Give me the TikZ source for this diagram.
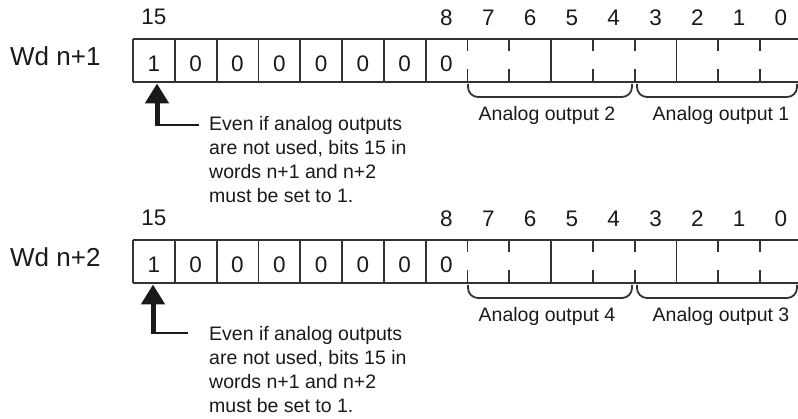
\documentclass[tikz,border=0pt]{standalone}
\usepackage{fontspec}
\setmainfont{Liberation Sans}
\usetikzlibrary{arrows.meta}
\definecolor{ink}{HTML}{1A1A1A}
\definecolor{linec}{HTML}{333333}
\newcommand\wordrow[9]{%
  % #1 prefix, #2 y offset, #3 label, #4 analog left text, #5 analog right text,
  % #6 arrow x, #7 corner y, #8 leader end x, #9 note baseline
  \pgfmathsetmacro\rt{39.3+#2}
  \pgfmathsetmacro\rb{81.7+#2}
  \pgfmathsetmacro\tka{51+#2}
  \pgfmathsetmacro\tkb{69.5+#2}
  \draw[boxline] (133,\rt) -- (798,\rt);
  \draw[boxline] (133,\rb) -- (798,\rb);
  \foreach \i in {0,...,7,10,13}{
    \draw[boxline] ({133+\i*41.8},\rt) -- ({133+\i*41.8},\rb);
  }
  \foreach \i in {8,9,11,12,14,15}{
    \draw[boxline] ({133+\i*41.8},\rt) -- ({133+\i*41.8},\tka);
    \draw[boxline] ({133+\i*41.8},\tkb) -- ({133+\i*41.8},\rb);
  }
  \node[wdlabel] (#1wd) at (10,{66+#2}) {#3};
  \node[bitnum] (#1n15) at ({133+0.5*41.8},{25+#2}) {15};
  \foreach \j/\b in {7/8,8/7,9/6,10/5,11/4,12/3,13/2,14/1,15/0}{
    \node[bitnum] (#1n\b) at ({133+(\j+0.5)*41.8},{25.5+#2}) {\b};
  }
  \node[celltxt] (#1c15) at ({133+0.5*41.8},{71.5+#2}) {1};
  \foreach \j in {1,...,7}{
    \node[celltxt] (#1c\j) at ({133+(\j+0.5)*41.8},{71.5+#2}) {0};
  }
  \draw[brace] (468,{84+#2}) -- (468,{97+#2}) -- (632,{97+#2}) -- (632,{84+#2});
  \draw[brace] (637,{84+#2}) -- (637,{97+#2}) -- (797,{97+#2}) -- (797,{84+#2});
  \node[anlabel] (#1al) at (547,{121+#2}) {#4};
  \node[anlabel] (#1ar) at (721,{121+#2}) {#5};
  \node[note] (#1note) at (209,{#9-14.2}) {Even if analog outputs\\are not used, bits 15 in\\words n+1 and n+2\\must be set to 1.};
  \coordinate (#1tip) at (#6,{83.5+#2});
  \coordinate (#1foot) at (#6,{#7+0.9});
  \coordinate (#1elbow) at ({#6-2.5},#7);
  \coordinate (#1end) at (#8,#7);
  \draw[leader] (#1end) -- (#1elbow);
  \draw[bigarrow] (#1foot) -- (#1tip);
}
\begin{document}
\begin{tikzpicture}[x=1pt,y=-1pt,
  boxline/.style={line width=1.8pt, draw=linec},
  bitnum/.style={font=\fontsize{22.5}{27}\selectfont, text=ink, anchor=base, inner sep=0pt},
  celltxt/.style={font=\fontsize{22.5}{27}\selectfont, text=ink, anchor=base, inner sep=0pt},
  wdlabel/.style={font=\fontsize{26}{30}\selectfont, text=ink, anchor=base west, inner sep=0pt},
  note/.style={font=\fontsize{19.5}{24}\selectfont, text=ink, anchor=north west, align=left, inner sep=0pt},
  anlabel/.style={font=\fontsize{19.5}{24}\selectfont, text=ink, anchor=base, inner sep=0pt},
  brace/.style={line width=1.8pt, draw=linec, rounded corners=10pt},
  leader/.style={line width=1.9pt, draw=ink},
  bigarrow/.style={line width=5pt, draw=ink, -{Triangle[width=23pt,length=20pt]}},
]
\useasboundingbox (0,0) rectangle (798,419);
\wordrow{r1}{0}{Wd n+1}{Analog output 2}{Analog output 1}{157}{125}{199}{130}
\wordrow{r2}{201}{Wd n+2}{Analog output 4}{Analog output 3}{153}{333}{188}{340}
\end{tikzpicture}
\end{document}
